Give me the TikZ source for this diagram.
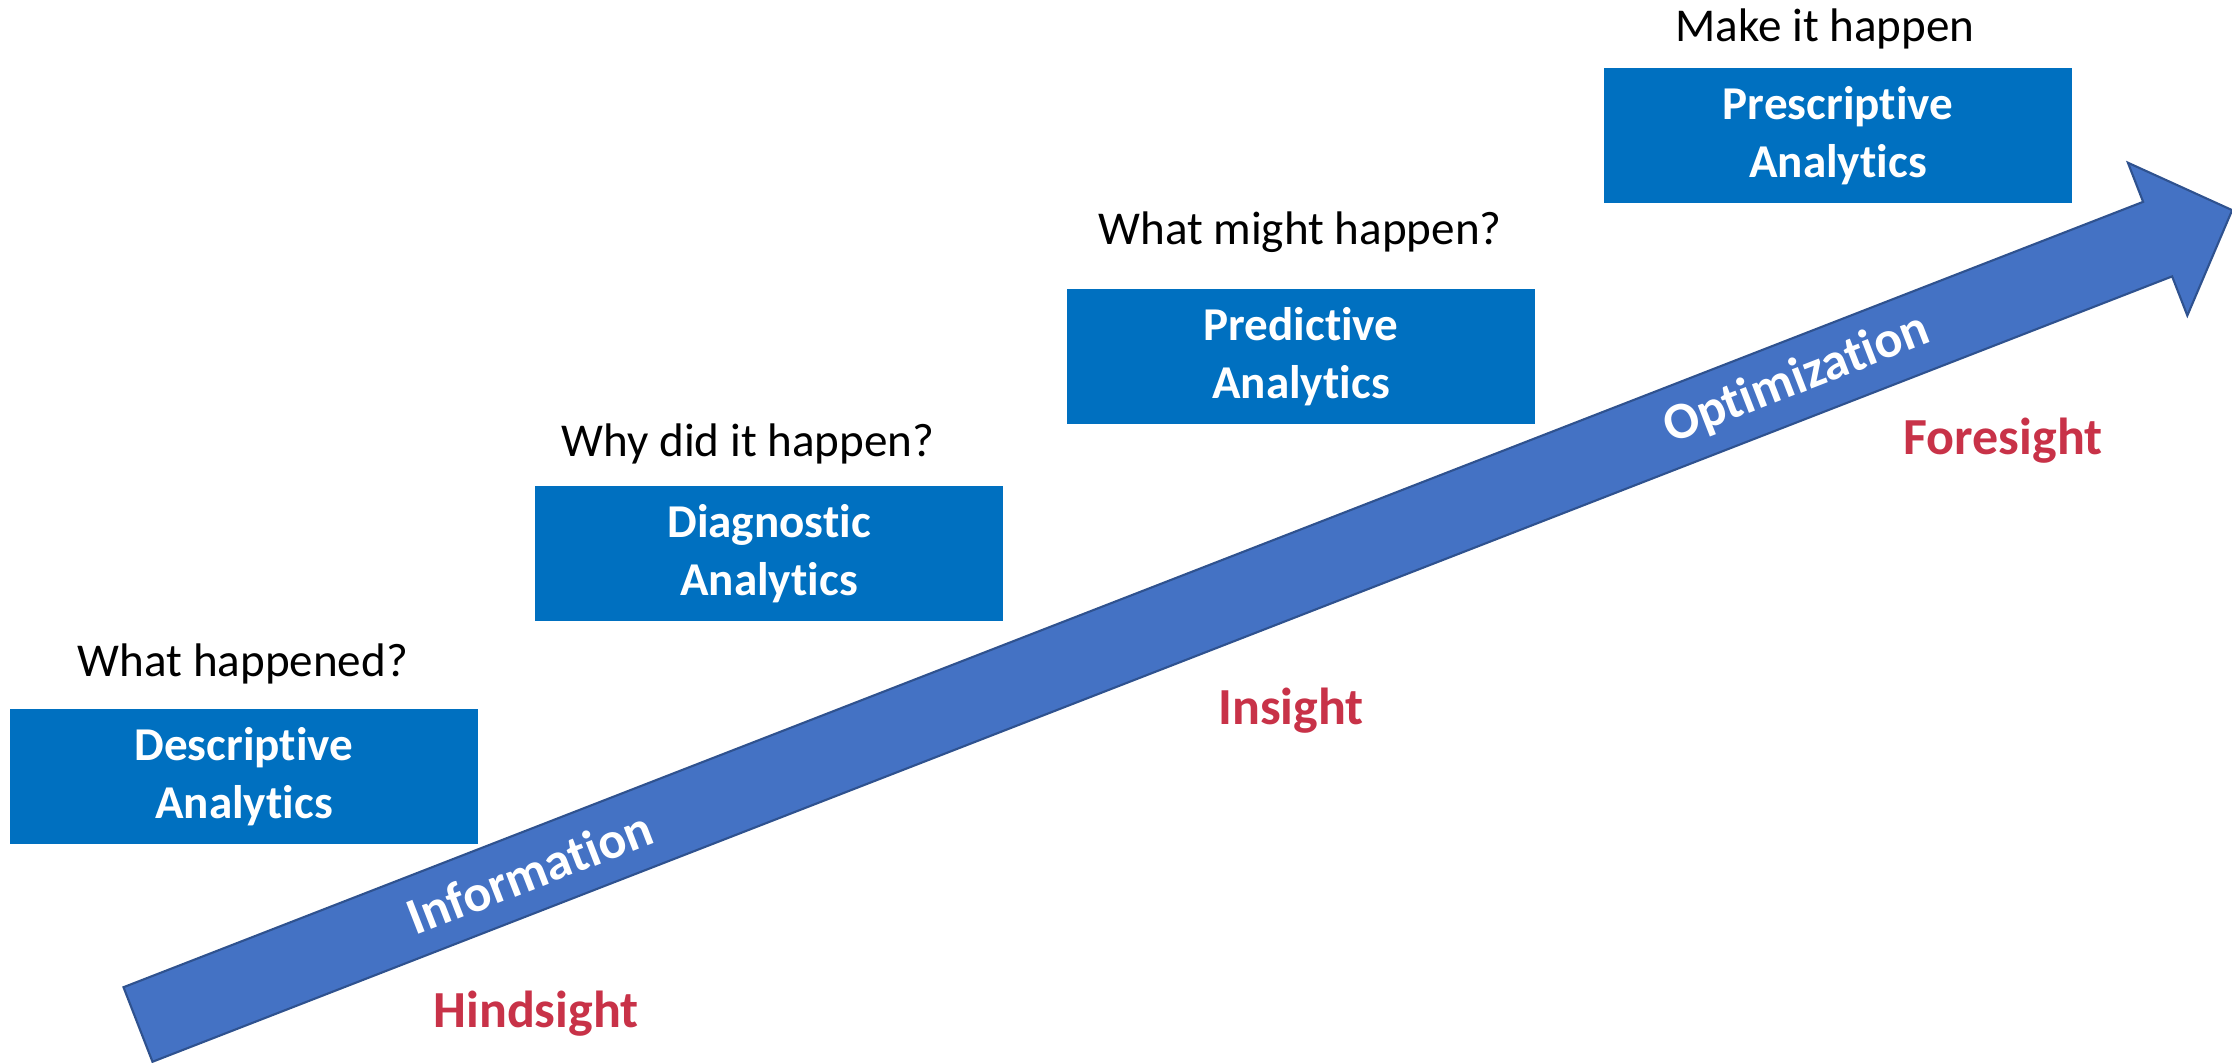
\documentclass[tikz,border=0pt]{standalone}
\usepackage{fontspec}
\setmainfont{Carlito}[RawFeature={-liga;-clig;-calt;-rlig;-dlig}]
\usepackage{xcolor}
\usepackage{tikz}
\usetikzlibrary{positioning}
\definecolor{boxblue}{HTML}{0070C0}
\definecolor{arrowblue}{HTML}{4472C4}
\definecolor{arrowline}{HTML}{2F528F}
\definecolor{sightred}{RGB}{200,50,72}
\tikzset{
    boxn/.style = {rectangle, fill=boxblue, text=white, align=center, inner sep=0pt, minimum width=4.68cm, minimum height=1.35cm, font=\fontsize{13.4}{16.5}\selectfont\bfseries},
    qnode/.style = {anchor=base, inner sep=0pt, font=\fontsize{13.4}{16}\selectfont},
    redn/.style = {anchor=base, inner sep=0pt, text=sightred, font=\fontsize{14.8}{18}\selectfont\bfseries},
}

\begin{document}
\begin{tikzpicture}
\useasboundingbox (0,0) rectangle (22.32,10.63);
\tikzset{
    arrown/.style = {text=white, inner sep=0pt, rotate=21.25, font=\fontsize{14.8}{18}\selectfont\bfseries},
    bigarrow/.style = {fill=arrowblue, draw=arrowline, line width=0.6pt, line join=miter}
}
% the big arrow
\begin{scope}[shift={(1.38,0.385)}, rotate=21.25]
\draw[bigarrow] (0,0.40) -- (21.67,0.40) -- (21.67,0.82) -- (22.47,0)
    -- (21.67,-0.82) -- (21.67,-0.40) -- (0,-0.40) -- cycle;
\node[arrown] at (4.2,0) (info) {Information};
\node[arrown] at (17.8,0) (opt) {Optimization};
\end{scope}
%
\node[boxn] at (2.44,2.865) (desc) {Descriptive\\Analytics};
\node[boxn] at (7.69,5.09) (diag) {Diagnostic\\Analytics};
\node[boxn] at (13.01,7.065) (pred) {Predictive\\Analytics};
\node[boxn] at (18.38,9.275) (presc) {Prescriptive\\Analytics};
%
\node[qnode] at (2.43,3.86) (qdesc) {What happened?};
\node[qnode] at (7.48,6.06) (qdiag) {Why did it happen?};
\node[qnode] at (13.00,8.18) (qpred) {What might happen?};
\node[qnode] at (18.25,10.21) (qpresc) {Make it happen};
%
\node[redn] at (5.36,0.35) (hind) {Hindsight};
\node[redn] at (12.91,3.38) (ins) {Insight};
\node[redn] at (20.03,6.08) (fore) {Foresight};
\end{tikzpicture}
\end{document}
